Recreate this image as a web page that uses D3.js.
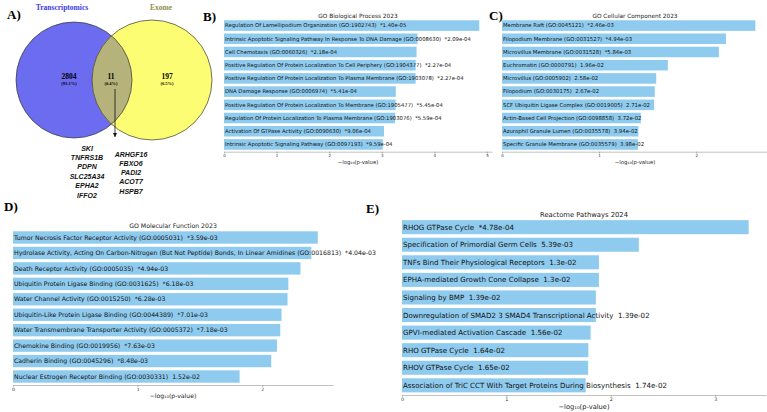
<!DOCTYPE html>
<html>
<head>
<meta charset="utf-8">
<script src="https://cdn.jsdelivr.net/npm/d3@7"></script>
<style>
  body { margin: 0; background: #fff; }
  svg { display: block; }
</style>
</head>
<body>
<svg id="fig" width="767" height="412"></svg>
<script>
// ---- Venn data ----
const vennSets = ["Transcriptomics", "Exome"];
const vennCounts = [2804, 11, 197];
const vennPercents = ["(93.1%)", "(0.4%)", "(6.5%)"];
const sharedGenesLeft = ["SKI", "TNFRS1B", "PDPN", "SLC25A34", "EPHA2", "IFFO2"];
const sharedGenesRight = ["ARHGF16", "FBXO6", "PADI2", "ACOT7", "HSPB7"];

// ---- Enrichment data (term, adjusted p-value label) ----
const bpTerms = [
  "Regulation Of Lamellipodium Organization (GO:1902743)",
  "Intrinsic Apoptotic Signaling Pathway In Response To DNA Damage (GO:0008630)",
  "Cell Chemotaxis (GO:0060326)",
  "Positive Regulation Of Protein Localization To Cell Periphery (GO:1904377)",
  "Positive Regulation Of Protein Localization To Plasma Membrane (GO:1903078)",
  "DNA Damage Response (GO:0006974)",
  "Positive Regulation Of Protein Localization To Membrane (GO:1905477)",
  "Regulation Of Protein Localization To Plasma Membrane (GO:1903076)",
  "Activation Of GTPase Activity (GO:0090630)",
  "Intrinsic Apoptotic Signaling Pathway (GO:0097193)"
];
const bpP = ["*1.40e-05", "*2.09e-04", "*2.18e-04", "*2.27e-04", "*2.27e-04",
             "*5.41e-04", "*5.45e-04", "*5.59e-04", "*9.06e-04", "*9.59e-04"];

const ccTerms = [
  "Membrane Raft (GO:0045121)",
  "Filopodium Membrane (GO:0031527)",
  "Microvillus Membrane (GO:0031528)",
  "Euchromatin (GO:0000791)",
  "Microvillus (GO:0005902)",
  "Filopodium (GO:0030175)",
  "SCF Ubiquitin Ligase Complex (GO:0019005)",
  "Actin-Based Cell Projection (GO:0098858)",
  "Azurophil Granule Lumen (GO:0035578)",
  "Specific Granule Membrane (GO:0035579)"
];
const ccP = ["*2.46e-03", "*4.94e-03", "*5.84e-03", "1.96e-02", "2.58e-02",
             "2.67e-02", "2.71e-02", "3.72e-02", "3.94e-02", "3.98e-02"];

const mfTerms = [
  "Tumor Necrosis Factor Receptor Activity (GO:0005031)",
  "Hydrolase Activity, Acting On Carbon-Nitrogen (But Not Peptide) Bonds, In Linear Amidines (GO:0016813)",
  "Death Receptor Activity (GO:0005035)",
  "Ubiquitin Protein Ligase Binding (GO:0031625)",
  "Water Channel Activity (GO:0015250)",
  "Ubiquitin-Like Protein Ligase Binding (GO:0044389)",
  "Water Transmembrane Transporter Activity (GO:0005372)",
  "Chemokine Binding (GO:0019956)",
  "Cadherin Binding (GO:0045296)",
  "Nuclear Estrogen Receptor Binding (GO:0030331)"
];
const mfP = ["*3.59e-03", "*4.04e-03", "*4.94e-03", "*6.18e-03", "*6.28e-03",
             "*7.01e-03", "*7.18e-03", "*7.63e-03", "*8.48e-03", "1.52e-02"];

const reTerms = [
  "RHOG GTPase Cycle",
  "Specification of Primordial Germ Cells",
  "TNFs Bind Their Physiological Receptors",
  "EPHA-mediated Growth Cone Collapse",
  "Signaling by BMP",
  "Downregulation of SMAD2 3 SMAD4 Transcriptional Activity",
  "GPVI-mediated Activation Cascade",
  "RHO GTPase Cycle",
  "RHOV GTPase Cycle",
  "Association of TriC CCT With Target Proteins During Biosynthesis"
];
const reP = ["*4.78e-04", "5.39e-03", "1.3e-02", "1.3e-02", "1.39e-02",
             "1.39e-02", "1.56e-02", "1.64e-02", "1.65e-02", "1.74e-02"];

const svg = d3.select("#fig");
const barColor = "#8fcbee";
const sans = "DejaVu Sans, sans-serif";
const serif = "Liberation Serif, Times New Roman, serif";

// ---- Panel letters ----
const letters = [["A)", 7, 19], ["B)", 203, 21], ["C)", 489, 20], ["D)", 4, 211], ["E)", 366, 213]];
svg.selectAll("text.letter").data(letters).join("text")
  .attr("class", "letter")
  .attr("x", d => d[1]).attr("y", d => d[2])
  .attr("font-family", serif).attr("font-weight", "bold").attr("font-size", 13)
  .text(d => d[0]);

// ---- Venn diagram ----
function drawVenn() {
  const g = svg.append("g");
  const blue = { cx: 74, cy: 80, r: 58 };
  const yellow = { cx: 152, cy: 80, r: 60 };

  g.append("clipPath").attr("id", "clipYellow")
    .append("circle").attr("cx", yellow.cx).attr("cy", yellow.cy).attr("r", yellow.r);

  g.append("circle").attr("cx", blue.cx).attr("cy", blue.cy).attr("r", blue.r).attr("fill", "#6c6cf0");
  g.append("circle").attr("cx", yellow.cx).attr("cy", yellow.cy).attr("r", yellow.r).attr("fill", "#fdfd74");
  g.append("circle").attr("cx", blue.cx).attr("cy", blue.cy).attr("r", blue.r)
    .attr("fill", "#b5b27b").attr("clip-path", "url(#clipYellow)");
  [blue, yellow].forEach(c => {
    g.append("circle").attr("cx", c.cx).attr("cy", c.cy).attr("r", c.r)
      .attr("fill", "none").attr("stroke", "#333").attr("stroke-width", 0.7);
  });

  // set titles
  g.append("text").attr("x", 62).attr("y", 9.5).attr("text-anchor", "middle")
    .attr("font-family", serif).attr("font-weight", "bold").attr("font-size", 7.5)
    .attr("fill", "#3a3aee").text(vennSets[0]);
  g.append("text").attr("x", 161).attr("y", 9.5).attr("text-anchor", "middle")
    .attr("font-family", serif).attr("font-weight", "bold").attr("font-size", 7.5)
    .attr("fill", "#8e8e4c").text(vennSets[1]);

  // counts
  const cx = [69, 111, 167];
  vennCounts.forEach((c, i) => {
    g.append("text").attr("x", cx[i]).attr("y", 79).attr("text-anchor", "middle")
      .attr("font-family", serif).attr("font-weight", "bold").attr("font-size", 7.5).text(c);
    g.append("text").attr("x", cx[i]).attr("y", 85).attr("text-anchor", "middle")
      .attr("font-family", serif).attr("font-weight", "bold").attr("font-size", 4.5).text(vennPercents[i]);
  });

  // arrow from overlap to gene list
  g.append("defs").append("marker").attr("id", "arrowHead")
    .attr("viewBox", "0 0 10 10").attr("refX", 10).attr("refY", 5)
    .attr("markerWidth", 5).attr("markerHeight", 5).attr("orient", "auto")
    .append("path").attr("d", "M0,0 L10,5 L0,10 z").attr("fill", "#111");
  g.append("line").attr("x1", 115).attr("y1", 89).attr("x2", 115).attr("y2", 137)
    .attr("stroke", "#111").attr("stroke-width", 0.8).attr("marker-end", "url(#arrowHead)");

  // gene names
  const geneFont = t => t.attr("font-family", "Liberation Sans, Arial, sans-serif")
    .attr("font-weight", "bold").attr("font-style", "italic").attr("font-size", 7)
    .attr("text-anchor", "middle").attr("fill", "#111");
  g.selectAll("text.gl").data(sharedGenesLeft).join("text").attr("class", "gl")
    .attr("x", 87).attr("y", (d, i) => 150.5 + i * 9.4).call(geneFont).text(d => d);
  g.selectAll("text.gr").data(sharedGenesRight).join("text").attr("class", "gr")
    .attr("x", 131).attr("y", (d, i) => 156.5 + i * 9.3).call(geneFont).text(d => d);
}
drawVenn();

// ---- Bar panels ----
const panels = [
  { title: "GO Biological Process 2023", terms: bpTerms, pvals: bpP,
    x: 224, w: 268, top: 18.3, bottom: 151.7, font: 5.3, tickFont: 4, titleFont: 5.8, labelFont: 5.3 },
  { title: "GO Cellular Component 2023", terms: ccTerms, pvals: ccP,
    x: 502, w: 266, top: 18.3, bottom: 151.7, font: 5.35, tickFont: 4, titleFont: 5.8, labelFont: 5.3 },
  { title: "GO Molecular Function 2023", terms: mfTerms, pvals: mfP,
    x: 13, w: 320, top: 229, bottom: 385, font: 6.2, tickFont: 4.5, titleFont: 6.2, labelFont: 6.1 },
  { title: "Reactome Pathways 2024", terms: reTerms, pvals: reP,
    x: 402, w: 364, top: 217.5, bottom: 395, font: 7.1, tickFont: 4.8, titleFont: 6.8, labelFont: 6.7 }
];

function drawPanel(p) {
  const values = p.pvals.map(s => -Math.log10(parseFloat(s.replace("*", ""))));
  const xMax = d3.max(values) * 1.05;
  const x = d3.scaleLinear().domain([0, xMax]).range([p.x, p.x + p.w]);
  const y = d3.scaleBand().domain(d3.range(p.terms.length))
    .range([p.top, p.bottom]).paddingInner(0.2).paddingOuter(0.15);

  const g = svg.append("g");

  g.selectAll("rect").data(values).join("rect")
    .attr("x", x(0))
    .attr("y", (d, i) => y(i))
    .attr("width", d => x(d) - x(0))
    .attr("height", y.bandwidth())
    .attr("fill", barColor);

  g.selectAll("text.term").data(p.terms).join("text").attr("class", "term")
    .attr("x", x(0) + 1)
    .attr("y", (d, i) => y(i) + y.bandwidth() / 2)
    .attr("dy", "0.35em")
    .attr("font-family", sans).attr("font-size", p.font).attr("fill", "#111")
    .text((d, i) => d + "\u00a0\u00a0" + p.pvals[i]);

  // title
  g.append("text")
    .attr("x", (x.range()[0] + x.range()[1]) / 2).attr("y", p.top - 0.6)
    .attr("text-anchor", "middle").attr("font-family", sans)
    .attr("font-size", p.titleFont).attr("fill", "#222")
    .text(p.title);

  // x axis
  const axis = g.append("g").attr("transform", `translate(0,${p.bottom})`)
    .call(d3.axisBottom(x)
      .tickValues(d3.range(0, Math.floor(xMax) + 1))
      .tickFormat(d3.format("d"))
      .tickSize(1.8).tickSizeOuter(0).tickPadding(0.6));
  axis.select(".domain").attr("stroke", "#a8a8a8").attr("stroke-width", 0.7);
  axis.selectAll(".tick line").attr("stroke", "#777").attr("stroke-width", 0.5);
  axis.selectAll(".tick text").attr("font-family", sans).attr("font-size", p.tickFont).attr("fill", "#333");

  // axis label
  g.append("text")
    .attr("x", (x.range()[0] + x.range()[1]) / 2)
    .attr("y", p.bottom + p.tickFont + p.labelFont + 2.5)
    .attr("text-anchor", "middle").attr("font-family", sans)
    .attr("font-size", p.labelFont).attr("fill", "#222")
    .text("\u2212log\u2081\u2080(p-value)");
}
panels.forEach(drawPanel);
</script>
</body>
</html>
